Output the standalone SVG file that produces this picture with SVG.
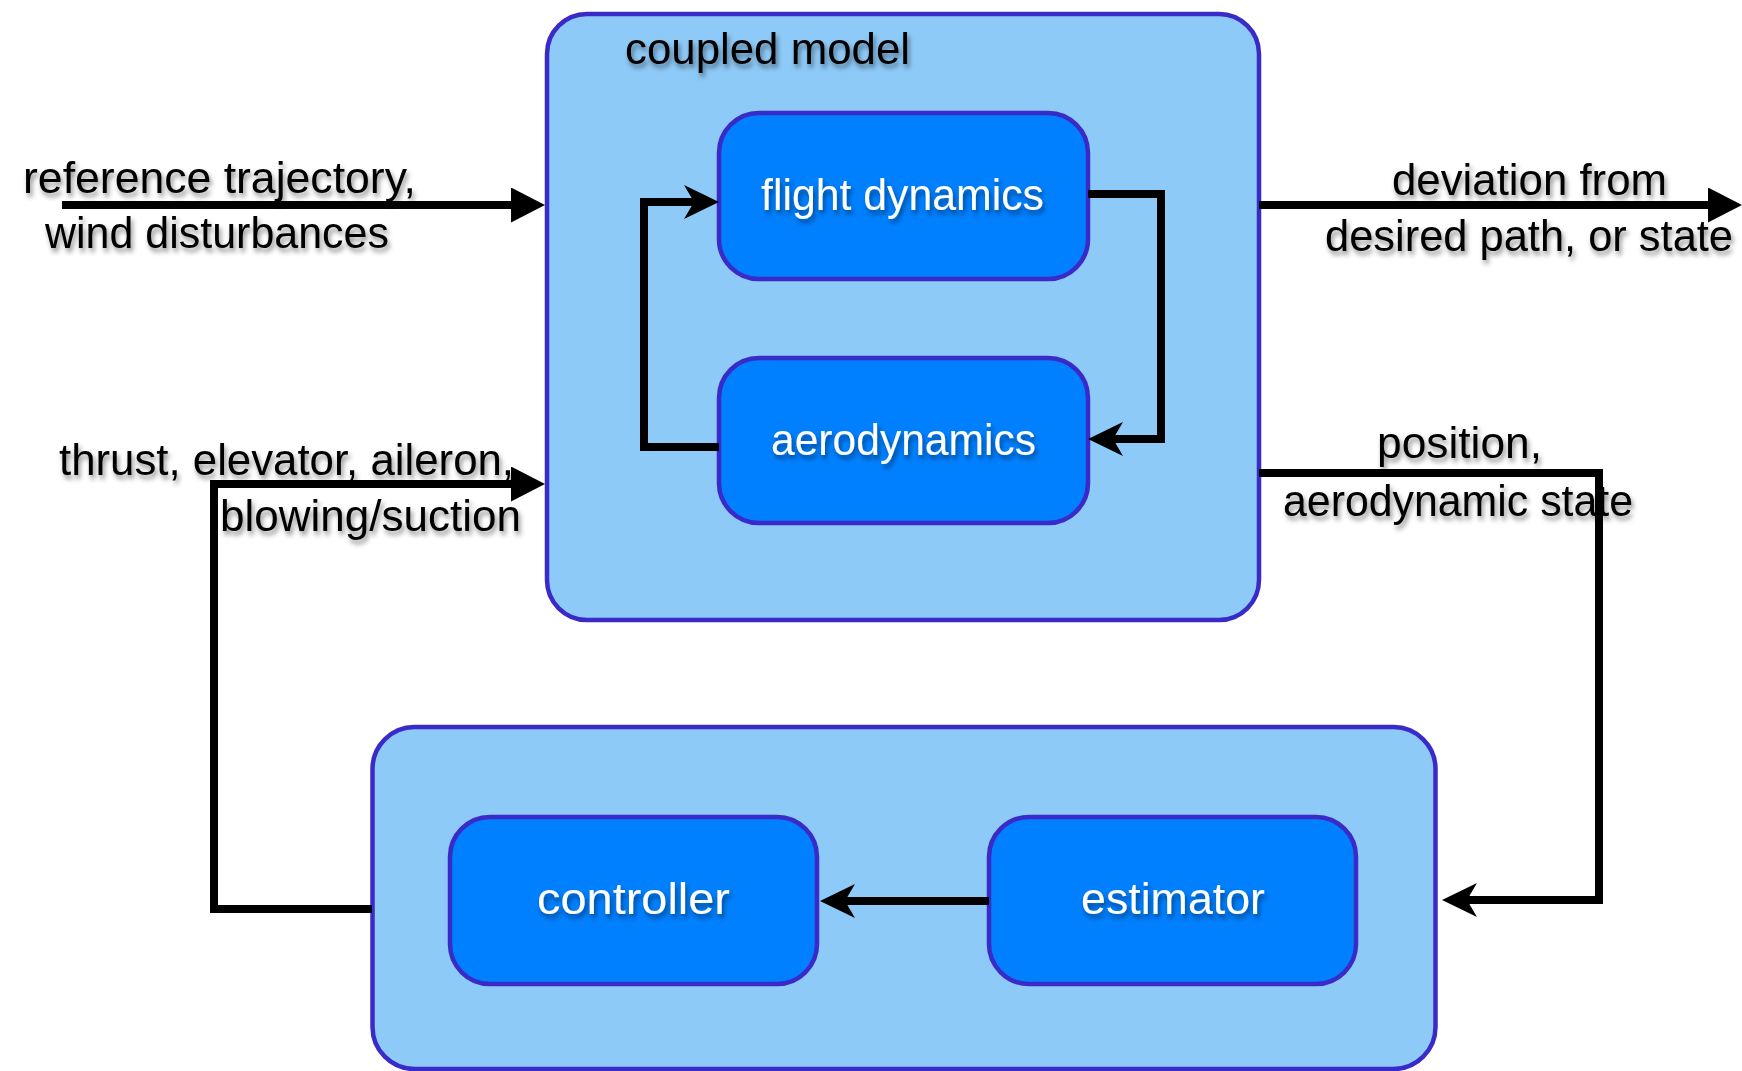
<svg xmlns="http://www.w3.org/2000/svg" width="1742" height="1071" viewBox="0 0 1742 1071">
  <style>
    .outer { fill: #8ECAF8; stroke: #3A2BC8; stroke-width: 4.5; }
    .block { fill: #0080FF; stroke: #3A2BC8; stroke-width: 4.5; }
    .wire { fill: none; stroke: #000; stroke-width: 8; stroke-linejoin: miter; stroke-linecap: butt; }
    .lbl { font-family: "Liberation Sans", Arial, sans-serif; font-size: 44px; fill: #000; filter: url(#shadow); }
    .blk { font-family: "Liberation Sans", Arial, sans-serif; font-size: 44px; fill: #fff; filter: url(#shadow); }
  </style>
  <defs>
    <filter id="shadow" x="-10%" y="-30%" width="120%" height="170%">
      <feDropShadow dx="2" dy="4" stdDeviation="2.5" flood-color="#000" flood-opacity="0.45"/>
    </filter>
    <!-- plain triangular head for external signals -->
    <marker id="tri" markerUnits="userSpaceOnUse" viewBox="0 0 34 35" markerWidth="34" markerHeight="35" refX="14" refY="17.5" orient="auto">
      <path d="M0,0 L34,17.5 L0,35 Z" fill="#000"/>
    </marker>
    <!-- swept-back head for internal signals -->
    <marker id="stealth" markerUnits="userSpaceOnUse" viewBox="0 0 35 34" markerWidth="35" markerHeight="34" refX="15" refY="17" orient="auto">
      <path d="M0,0 L35,17 L0,34 L10,17 Z" fill="#000"/>
    </marker>
  </defs>

  <rect width="1742" height="1071" fill="#fff"/>

  <!-- coupled model container -->
  <g id="coupled-model">
    <rect class="outer" x="547" y="14" width="712" height="606" rx="40" ry="40"/>
    <text class="lbl" x="625" y="64" textLength="285" lengthAdjust="spacingAndGlyphs">coupled model</text>
  </g>

  <!-- controller/estimator container -->
  <g id="control-loop">
    <rect class="outer" x="372.5" y="727" width="1063" height="342" rx="42" ry="42"/>
  </g>

  <g id="flight-dynamics">
    <rect class="block" x="719" y="113" width="369" height="166" rx="40" ry="40"/>
    <text class="blk" x="761" y="210" textLength="283" lengthAdjust="spacingAndGlyphs">flight dynamics</text>
  </g>

  <g id="aerodynamics">
    <rect class="block" x="719" y="358" width="369" height="165" rx="40" ry="40"/>
    <text class="blk" x="771" y="455" textLength="265" lengthAdjust="spacingAndGlyphs">aerodynamics</text>
  </g>

  <g id="controller">
    <rect class="block" x="450" y="817" width="367" height="167" rx="40" ry="40"/>
    <text class="blk" x="537" y="914" textLength="193" lengthAdjust="spacingAndGlyphs">controller</text>
  </g>

  <g id="estimator">
    <rect class="block" x="989" y="817" width="367" height="167" rx="40" ry="40"/>
    <text class="blk" x="1081" y="914" textLength="184" lengthAdjust="spacingAndGlyphs">estimator</text>
  </g>

  <!-- signal lines -->
  <g id="connectors">
    <path class="wire" d="M62,205 H525" marker-end="url(#tri)"/>
    <path class="wire" d="M1259,205 H1722" marker-end="url(#tri)"/>
    <path class="wire" d="M372,909 H214 V484 H525" marker-end="url(#tri)"/>
    <path class="wire" d="M1259,473 H1599 V900 H1462" marker-end="url(#stealth)"/>
    <path class="wire" d="M989,901 H840" marker-end="url(#stealth)"/>
    <path class="wire" d="M1088,194 H1161 V439 H1108" marker-end="url(#stealth)"/>
    <path class="wire" d="M719,447 H644 V202 H699" marker-end="url(#stealth)"/>
  </g>

  <!-- signal labels -->
  <g id="signal-labels">
    <text class="lbl" x="23" y="193" textLength="393" lengthAdjust="spacingAndGlyphs">reference trajectory,</text>
    <text class="lbl" x="45" y="248" textLength="344" lengthAdjust="spacingAndGlyphs">wind disturbances</text>
    <text class="lbl" x="1392" y="195" textLength="275" lengthAdjust="spacingAndGlyphs">deviation from</text>
    <text class="lbl" x="1325" y="251" textLength="408" lengthAdjust="spacingAndGlyphs">desired path, or state</text>
    <text class="lbl" x="59" y="475" textLength="455" lengthAdjust="spacingAndGlyphs">thrust, elevator, aileron,</text>
    <text class="lbl" x="220" y="531" textLength="301" lengthAdjust="spacingAndGlyphs">blowing/suction</text>
    <text class="lbl" x="1377" y="458" textLength="165" lengthAdjust="spacingAndGlyphs">position,</text>
    <text class="lbl" x="1283" y="516" textLength="350" lengthAdjust="spacingAndGlyphs">aerodynamic state</text>
  </g>
</svg>
